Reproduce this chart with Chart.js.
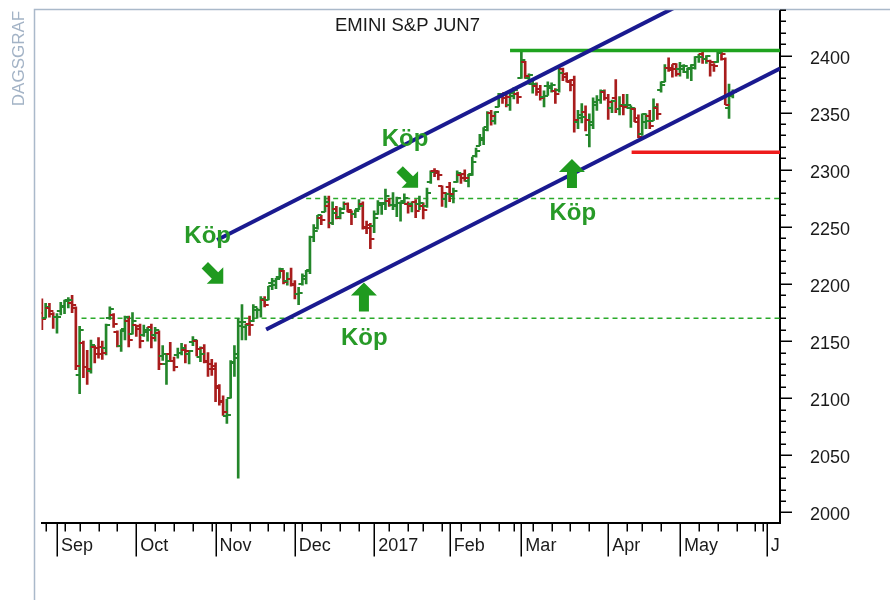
<!DOCTYPE html>
<html>
<head>
<meta charset="utf-8">
<script src="https://cdn.jsdelivr.net/npm/chart.js@4.4.1/dist/chart.umd.min.js"></script>
<style>
  html, body { margin: 0; padding: 0; background: #fff; }
  #wrap { width: 890px; height: 600px; }
</style>
</head>
<body>
<div id="wrap"><canvas id="graf" width="890" height="600"></canvas></div>
<script>
// dagliga staplar, index 0 = 26 aug 2016 (handelsdagar)
const opens = [
  2175, 2170, 2179, 2174,
  2171, 2176, 2181, 2185, 2183, 2179, 2120, 2148, 2127, 2124, 2145, 2144, 2145, 2144, 2170, 2173, 2158, 2146, 2161, 2168, 2156,
  2164, 2163, 2155, 2158, 2162, 2155, 2157, 2137, 2130, 2139, 2133, 2138, 2140, 2142, 2139, 2149, 2150, 2136, 2144, 2132, 2130,
  2128, 2109, 2098, 2084, 2100, 2131, 2135, 2167, 2162, 2165, 2168, 2177, 2177, 2186, 2186, 2201, 2199, 2206, 2211, 2203, 2204,
  2200, 2191, 2200, 2207, 2211, 2241, 2249, 2258, 2263, 2268, 2253, 2266, 2259, 2266, 2270, 2263, 2261, 2266, 2270, 2250, 2252,
  2251, 2261, 2269, 2271, 2273, 2269, 2268, 2271, 2273, 2270, 2270, 2272, 2270, 2268, 2268, 2289, 2299, 2299, 2286, 2274,
  2285, 2277, 2289, 2295, 2296, 2290, 2296, 2312, 2321, 2326, 2335, 2350, 2343, 2355, 2365, 2367, 2357, 2365, 2366,
  2380, 2394, 2380, 2375, 2373, 2371, 2364, 2373, 2372, 2369, 2370, 2388, 2384, 2377, 2379, 2342, 2345, 2351, 2330, 2339, 2357, 2361, 2368,
  2363, 2354, 2363, 2353, 2356, 2357, 2354, 2353, 2342, 2331, 2342, 2347, 2343, 2354, 2370, 2377, 2389, 2389, 2393,
  2388, 2391, 2386, 2389, 2392, 2399, 2401, 2397, 2395, 2392, 2394, 2404, 2397, 2354, 2367
];
const highs = [
  2187, 2183, 2183, 2175,
  2174, 2184, 2186, 2188, 2190, 2180, 2163, 2150, 2142, 2151, 2146, 2153, 2150, 2165, 2180, 2174, 2159, 2160, 2172, 2172, 2175,
  2164, 2165, 2164, 2162, 2165, 2162, 2159, 2146, 2138, 2149, 2136, 2144, 2148, 2147, 2142, 2154, 2151, 2145, 2147, 2140, 2134,
  2131, 2112, 2102, 2099, 2133, 2146, 2170, 2182, 2165, 2172, 2182, 2179, 2189, 2189, 2198, 2205, 2205, 2214, 2212, 2210, 2214,
  2203, 2197, 2209, 2212, 2242, 2252, 2260, 2260, 2277, 2277, 2272, 2268, 2267, 2272, 2271, 2264, 2265, 2274, 2272, 2255, 2253,
  2264, 2273, 2271, 2283, 2275, 2280, 2276, 2272, 2279, 2272, 2272, 2274, 2277, 2271, 2284, 2299, 2301, 2299, 2286, 2280,
  2289, 2284, 2299, 2296, 2300, 2296, 2311, 2319, 2331, 2337, 2351, 2352, 2351, 2367, 2366, 2368, 2367, 2372, 2368,
  2405, 2395, 2384, 2378, 2376, 2374, 2369, 2377, 2376, 2371, 2390, 2389, 2385, 2379, 2382, 2352, 2358, 2356, 2349, 2363, 2365, 2370, 2370,
  2366, 2361, 2379, 2364, 2366, 2366, 2356, 2354, 2348, 2349, 2349, 2352, 2362, 2358, 2377, 2392, 2398, 2392, 2393,
  2394, 2392, 2389, 2392, 2399, 2401, 2404, 2400, 2396, 2393, 2404, 2405, 2398, 2375, 2370
];
const lows = [
  2160, 2170, 2171, 2161,
  2157, 2173, 2174, 2179, 2175, 2125, 2104, 2118, 2112, 2122, 2131, 2135, 2134, 2138, 2169, 2162, 2145, 2141, 2151, 2145, 2156,
  2154, 2144, 2154, 2150, 2144, 2150, 2125, 2133, 2112, 2132, 2124, 2135, 2138, 2131, 2130, 2146, 2137, 2132, 2131, 2119, 2120,
  2097, 2094, 2085, 2078, 2100, 2119, 2030, 2151, 2151, 2155, 2167, 2170, 2171, 2180, 2186, 2195, 2196, 2205, 2200, 2199, 2198,
  2187, 2182, 2199, 2200, 2209, 2237, 2248, 2252, 2263, 2249, 2252, 2257, 2257, 2265, 2263, 2252, 2258, 2265, 2248, 2244, 2231,
  2245, 2261, 2261, 2265, 2268, 2265, 2259, 2255, 2271, 2262, 2263, 2258, 2265, 2257, 2267, 2288, 2294, 2291, 2268, 2267,
  2272, 2271, 2289, 2288, 2290, 2285, 2295, 2311, 2321, 2322, 2334, 2339, 2340, 2355, 2358, 2355, 2352, 2362, 2358,
  2380, 2380, 2375, 2367, 2365, 2361, 2355, 2365, 2368, 2358, 2368, 2378, 2377, 2369, 2333, 2336, 2341, 2334, 2320, 2336, 2352, 2358, 2361,
  2344, 2350, 2350, 2348, 2348, 2354, 2337, 2342, 2328, 2330, 2336, 2336, 2343, 2344, 2368, 2377, 2386, 2381, 2382,
  2382, 2385, 2380, 2378, 2388, 2394, 2393, 2393, 2382, 2386, 2394, 2396, 2357, 2345, 2363
];
const closes = [
  2169, 2180, 2176, 2171,
  2171, 2180, 2186, 2186, 2182, 2128, 2160, 2127, 2126, 2147, 2139, 2139, 2140, 2164, 2178, 2165, 2146, 2159, 2171, 2151, 2168,
  2161, 2150, 2160, 2160, 2153, 2160, 2130, 2139, 2133, 2133, 2127, 2140, 2144, 2141, 2141, 2151, 2143, 2139, 2133, 2126, 2126,
  2111, 2097, 2088, 2085, 2132, 2139, 2163, 2167, 2164, 2164, 2180, 2177, 2187, 2182, 2198, 2203, 2204, 2213, 2202, 2204, 2199,
  2191, 2192, 2204, 2212, 2241, 2246, 2260, 2256, 2272, 2253, 2262, 2258, 2262, 2270, 2265, 2261, 2264, 2268, 2249, 2249, 2239,
  2258, 2271, 2270, 2277, 2269, 2269, 2275, 2271, 2275, 2268, 2272, 2264, 2271, 2265, 2280, 2298, 2297, 2295, 2280, 2279,
  2279, 2281, 2297, 2293, 2293, 2295, 2307, 2316, 2328, 2337, 2350, 2347, 2351, 2366, 2363, 2364, 2367, 2370, 2364,
  2396, 2382, 2383, 2375, 2368, 2363, 2365, 2373, 2374, 2366, 2385, 2381, 2378, 2374, 2344, 2348, 2346, 2344, 2342, 2359, 2361, 2369, 2363,
  2359, 2360, 2353, 2357, 2355, 2357, 2354, 2345, 2329, 2349, 2343, 2338, 2355, 2349, 2374, 2389, 2387, 2388, 2384,
  2388, 2391, 2388, 2389, 2399, 2399, 2397, 2400, 2394, 2391, 2402, 2401, 2357, 2365, 2368
];

// x-axeln: första handelsdag i månaden och veckostart (index)
const monthTicks = [4, 25, 46, 67, 88, 108, 127, 150, 169, 192];
const monthLabels = ['Sep', 'Oct', 'Nov', 'Dec', '2017', 'Feb', 'Mar', 'Apr', 'May', 'J'];
const weekTicks = [1, 6, 10, 15, 20, 25, 30, 35, 40, 45, 50, 55, 60, 64, 69, 74, 79, 84, 92, 97, 101, 106,
  111, 116, 121, 125, 130, 135, 140, 145, 150, 155, 159, 164, 169, 174, 179, 184, 189, 191];
const priceLabels = [2000, 2050, 2100, 2150, 2200, 2250, 2300, 2350, 2400];

// trendkanal och nivåer [index, kurs]
const channelUpper = [[46.4, 2238.5], [169, 2444.4]];
const channelLower = [[59.4, 2160.2], [195.5, 2388.6]];
const resistance = [[124, 2404.4], [195.5, 2404.4]];
const support = [[156.2, 2315.4], [195.5, 2315.4]];
const dashedHigh = [[70, 2274.8], [195.5, 2274.8]];
const dashedLow = [[10.5, 2170], [195.5, 2170]];

// köpsignaler: text [index, kurs], pilar [index, kurs, vinkel, storlek]
const kopLabels = [[43.9, 2241.6], [96.2, 2326.5], [85.4, 2152.7], [140.6, 2261.7]];
const kopArrows = [[45.6, 2208.3, 135, 0.9], [97.2, 2292.3, 135, 0.9], [85.3, 2188.6, 0, 1], [140.4, 2296.7, 0, 1]];

const GREEN = '#23862a';
const RED = '#a81c1c';
const FONT = 'Arial, "Liberation Sans", sans-serif';

function tick(color, right) {
  const c = document.createElement('canvas');
  c.width = 10; c.height = 2;
  const g = c.getContext('2d');
  g.fillStyle = color;
  g.fillRect(right ? 5 : 1, 0, 4, 2);
  return c;
}
const openUp = tick(GREEN, false), openDown = tick(RED, false);
const closeUp = tick(GREEN, true), closeDown = tick(RED, true);

const isUp = i => closes[i] >= opens[i];
const pts = arr => arr.map(p => ({ x: p[0], y: p[1] }));
const idx = opens.map((_, i) => i);

function lineSet(arr, color, width, dash, order) {
  return {
    type: 'line', data: pts(arr), borderColor: color, borderWidth: width,
    borderDash: dash || [], pointRadius: 0, clip: 0, order: order
  };
}

function drawArrow(ctx, x, y, angle, s) {
  ctx.save();
  ctx.translate(x, y);
  ctx.rotate(angle * Math.PI / 180);
  ctx.scale(s, s);
  ctx.beginPath();
  ctx.moveTo(0, -14.5);
  ctx.lineTo(13, -1.5);
  ctx.lineTo(5, -1.5);
  ctx.lineTo(5, 14.5);
  ctx.lineTo(-5, 14.5);
  ctx.lineTo(-5, -1.5);
  ctx.lineTo(-13, -1.5);
  ctx.closePath();
  ctx.fillStyle = '#1f9a1f';
  ctx.fill();
  ctx.restore();
}

const dekor = {
  id: 'dekor',
  beforeDraw(chart) {
    const ctx = chart.ctx;
    ctx.save();
    ctx.fillStyle = '#fff';
    ctx.fillRect(0, 0, chart.width, chart.height);
    ctx.restore();
  },
  afterDraw(chart) {
    const { ctx, chartArea: a, scales: { x, y } } = chart;
    ctx.save();

    // ram
    ctx.strokeStyle = '#aab9ca';
    ctx.lineWidth = 1.5;
    ctx.beginPath();
    ctx.moveTo(34.5, chart.height);
    ctx.lineTo(34.5, a.top);
    ctx.lineTo(chart.width, a.top);
    ctx.stroke();

    ctx.save();
    ctx.translate(23.5, 58.5);
    ctx.rotate(-Math.PI / 2);
    ctx.font = '17px ' + FONT;
    ctx.fillStyle = '#a3b3c6';
    ctx.textAlign = 'center';
    ctx.fillText('DAGSGRAF', 0, 0);
    ctx.restore();

    ctx.font = '18.5px ' + FONT;
    ctx.fillStyle = '#1a1a1a';
    ctx.textAlign = 'left';
    ctx.fillText('EMINI S&P JUN7', 335, 31);

    // skalstreck
    ctx.strokeStyle = '#000';
    ctx.lineWidth = 1.5;
    ctx.beginPath();
    weekTicks.forEach(t => {
      const px = Math.round(x.getPixelForValue(t)) + 0.25;
      ctx.moveTo(px, a.bottom);
      ctx.lineTo(px, a.bottom + 9);
    });
    monthTicks.forEach(t => {
      const px = Math.round(x.getPixelForValue(t)) + 0.25;
      ctx.moveTo(px, a.bottom);
      ctx.lineTo(px, a.bottom + 34);
    });
    for (let v = 2000; v <= 2440; v += 10) {
      const py = Math.round(y.getPixelForValue(v)) + 0.25;
      ctx.moveTo(a.right, py);
      ctx.lineTo(a.right + (v % 50 === 0 ? 12 : 6), py);
    }
    ctx.stroke();

    // köpsignaler
    ctx.font = 'bold 24px ' + FONT;
    ctx.fillStyle = '#279a27';
    ctx.textAlign = 'center';
    ctx.textBaseline = 'middle';
    kopLabels.forEach(k => ctx.fillText('Köp', x.getPixelForValue(k[0]), y.getPixelForValue(k[1])));
    kopArrows.forEach(p => drawArrow(ctx, x.getPixelForValue(p[0]), y.getPixelForValue(p[1]), p[2], p[3]));

    ctx.restore();
  }
};

new Chart(document.getElementById('graf'), {
  type: 'bar',
  data: {
    datasets: [
      lineSet(channelUpper, '#1a1a90', 4, null, 0),
      lineSet(channelLower, '#1a1a90', 4, null, 0),
      lineSet(resistance, '#1fa31f', 3.5, null, 0),
      lineSet(support, '#ee1c1c', 3.5, null, 0),
      lineSet(dashedHigh, '#2aaa2a', 1.5, [5, 4], 3),
      lineSet(dashedLow, '#2aaa2a', 1.5, [5, 4], 3),
      {
        type: 'scatter', order: 1, pointRadius: 2,
        data: idx.map(i => ({ x: i, y: opens[i] })),
        pointStyle: c => (c.dataIndex !== undefined && !isUp(c.dataIndex)) ? openDown : openUp
      },
      {
        type: 'scatter', order: 1, pointRadius: 2,
        data: idx.map(i => ({ x: i, y: closes[i] })),
        pointStyle: c => (c.dataIndex !== undefined && !isUp(c.dataIndex)) ? closeDown : closeUp
      },
      {
        type: 'bar', order: 2, barThickness: 2, borderWidth: 0,
        data: idx.map(i => ({ x: i, y: [lows[i], highs[i]] })),
        backgroundColor: c => (c.dataIndex !== undefined && !isUp(c.dataIndex)) ? RED : GREEN
      }
    ]
  },
  options: {
    responsive: false,
    devicePixelRatio: 1,
    animation: false,
    events: [],
    layout: { padding: { left: 41.5, top: 9.5, right: 0, bottom: 0 } },
    plugins: { legend: { display: false }, tooltip: { enabled: false } },
    scales: {
      x: {
        type: 'linear', min: -0.1, max: 195.5, offset: false,
        grid: { display: false, drawTicks: false, tickLength: 0 },
        border: { display: true, color: '#000', width: 2 },
        afterBuildTicks: s => { s.ticks = monthTicks.map(v => ({ value: v })); },
        afterFit: s => { s.height = 77.5; },
        ticks: {
          autoSkip: false, maxRotation: 0, align: 'start', labelOffset: 4, padding: 15,
          color: '#1a1a1a', font: { family: FONT, size: 18, lineHeight: 1 },
          callback: (v, i) => monthLabels[i]
        }
      },
      y: {
        type: 'linear', position: 'right', min: 1991.2, max: 2440.3,
        // osynliga streck ger avståndet till etiketterna
        grid: {
          display: true, drawOnChartArea: false, drawTicks: true, tickLength: 30,
          color: 'rgba(0,0,0,0)', tickColor: 'rgba(0,0,0,0)'
        },
        border: { display: true, color: '#000', width: 2 },
        afterBuildTicks: s => { s.ticks = priceLabels.map(v => ({ value: v })); },
        afterFit: s => { s.width = 110; },
        ticks: {
          padding: 0, labelOffset: 3, color: '#1a1a1a', font: { family: FONT, size: 18, lineHeight: 1 },
          callback: v => String(v)
        }
      }
    }
  },
  plugins: [dekor]
});
</script>
</body>
</html>
